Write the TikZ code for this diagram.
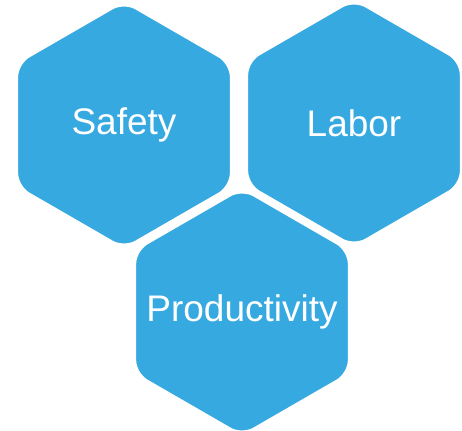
\documentclass[tikz,border=0pt]{standalone}
\usepackage{fontspec}
\setmainfont{Liberation Sans}
\usetikzlibrary{shapes.geometric}
\definecolor{hexblue}{RGB}{54,169,224}

\begin{document}
\begin{tikzpicture}[x=1pt, y=1pt,
            hexa/.style ={regular polygon, regular polygon sides=6, shape border rotate=30,
            fill=hexblue, draw=white, line width=4pt, rounded corners=14pt, text=white,
            inner sep=-40pt, minimum size=249pt, font=\fontsize{37}{40}\selectfont}]

        \useasboundingbox (0,0) rectangle (462,430);

        %\node [estilo] (nombre) at (posicion) {};

        \node[hexa] (S) at (124, 305) {Safety};
        \node[hexa] (L) at (354, 307) {Labor};
        \node[hexa] (P) at (242, 118) {Productivity};

\end{tikzpicture}
\end{document}
